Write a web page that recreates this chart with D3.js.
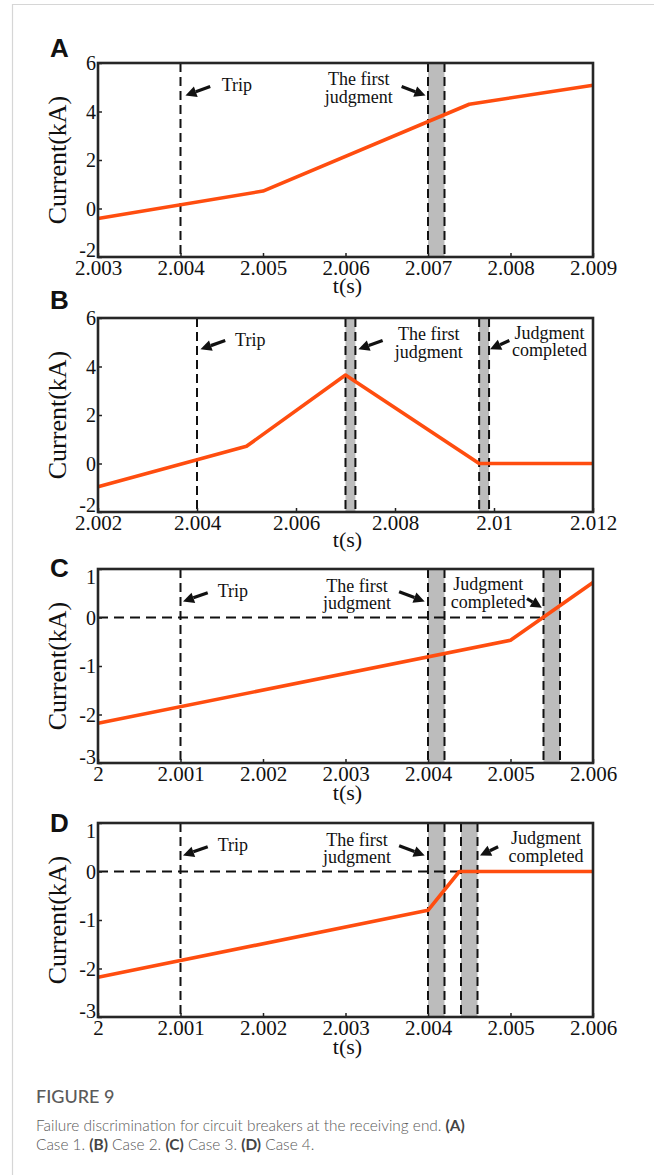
<!DOCTYPE html>
<html><head><meta charset="utf-8">
<script src="https://cdn.jsdelivr.net/npm/d3@7"></script>
<style>body{margin:0;background:#fff} svg{display:block}</style>
</head><body><svg id="c" width="654" height="1175"></svg>
<script>
// ---- data ----
const panelLetters = ["A", "B", "C", "D"];
const xDomainA = [2.003, 2.009], xDomainB = [2.002, 2.012], xDomainC = [2.000, 2.006], xDomainD = [2.000, 2.006];
const yDomainA = [-2, 6], yDomainB = [-2, 6], yDomainC = [-3, 1], yDomainD = [-3, 1];
const xTicksA = [2.003, 2.004, 2.005, 2.006, 2.007, 2.008, 2.009];
const xTickLabelsA = ["2.003", "2.004", "2.005", "2.006", "2.007", "2.008", "2.009"];
const xTicksB = [2.002, 2.004, 2.006, 2.008, 2.010, 2.012];
const xTickLabelsB = ["2.002", "2.004", "2.006", "2.008", "2.01", "2.012"];
const xTicksCD = [2.000, 2.001, 2.002, 2.003, 2.004, 2.005, 2.006];
const xTickLabelsCD = ["2", "2.001", "2.002", "2.003", "2.004", "2.005", "2.006"];
const yTicksAB = [-2, 0, 2, 4, 6];
const yTickLabelsAB = ["-2", "0", "2", "4", "6"];
const yTicksCD = [-3, -2, -1, 0, 1];
const yTickLabelsCD = ["-3", "-2", "-1", "0", "1"];

// current traces (t in s, I in kA)
const tA = [2.003, 2.005, 2.0075, 2.009];
const iA = [-0.41, 0.72, 4.3, 5.08];
const tB = [2.002, 2.005, 2.007, 2.0097, 2.012];
const iB = [-0.96, 0.71, 3.65, 0, 0];
const tC = [2.000, 2.005, 2.006];
const iC = [-2.18, -0.47, 0.72];
const tD = [2.000, 2.004, 2.00438, 2.006];
const iD = [-2.18, -0.8, 0, 0];

// trip instants, judgment windows, zero reference
const tripA = 2.004, tripB = 2.004, tripC = 2.001, tripD = 2.001;
const bandsA = [[2.007, 2.0072]];
const bandsB = [[2.007, 2.0072], [2.0097, 2.0099]];
const bandsC = [[2.004, 2.0042], [2.0054, 2.0056]];
const bandsD = [[2.004, 2.0042], [2.0044, 2.0046]];
const zeroLineC = [2.000, 2.0054];
const zeroLineD = [2.000, 2.0044];

// annotations (data coordinates)
const notesA = [{lines: ["Trip"], x: 2.0045, y: 4.84, anchor: "start"},
                {lines: ["The first", "judgment"], x: 2.00616, y: 5.08, anchor: "middle"}];
const arrowsA = [[2.00436, 5.03, 2.00406, 4.66], [2.00668, 5.03, 2.00697, 4.66]];
const notesB = [{lines: ["Trip"], x: 2.00477, y: 4.84, anchor: "start"},
                {lines: ["The first", "judgment"], x: 2.00868, y: 5.08, anchor: "middle"},
                {lines: ["Judgment", "completed"], x: 2.01112, y: 5.14, anchor: "middle"}];
const arrowsB = [[2.00457, 5.07, 2.00407, 4.71], [2.00775, 5.07, 2.00726, 4.71], [2.01031, 5.07, 2.00992, 4.71]];
const notesC = [{lines: ["Trip"], x: 2.00145, y: 0.43, anchor: "start"},
                {lines: ["The first", "judgment"], x: 2.00314, y: 0.53, anchor: "middle"},
                {lines: ["Judgment", "completed"], x: 2.00473, y: 0.56, anchor: "middle"}];
const arrowsC = [[2.00133, 0.51, 2.00103, 0.33], [2.00365, 0.53, 2.00396, 0.33], [2.0052, 0.39, 2.00538, 0.2]];
const notesD = [{lines: ["Trip"], x: 2.00145, y: 0.43, anchor: "start"},
                {lines: ["The first", "judgment"], x: 2.00314, y: 0.53, anchor: "middle"},
                {lines: ["Judgment", "completed"], x: 2.00543, y: 0.56, anchor: "middle"}];
const arrowsD = [[2.00133, 0.51, 2.00103, 0.33], [2.00365, 0.53, 2.00396, 0.33], [2.00485, 0.51, 2.00463, 0.33]];

// ---- drawing ----
const svg = d3.select("#c");
const serif = "'Liberation Serif','Times New Roman',serif";
const sans = "'Liberation Sans',Arial,sans-serif";
const ORANGE = "#ff4d0f";

// card border
svg.append("path").attr("d", "M12.5,1175 V4.5 H654").attr("fill", "none").attr("stroke", "#d6d6d6").attr("stroke-width", 1.2);

const panels = [
  {letter: panelLetters[0], top: 63, xd: xDomainA, yd: yDomainA, xt: xTicksA, xl: xTickLabelsA, yt: yTicksAB, yl: yTickLabelsAB, t: tA, v: iA, trip: tripA, bands: bandsA, zero: null, notes: notesA, arrows: arrowsA, letterY: 57, topShift: 0, botShift: -7, tsY: 36},
  {letter: panelLetters[1], top: 318, xd: xDomainB, yd: yDomainB, xt: xTicksB, xl: xTickLabelsB, yt: yTicksAB, yl: yTickLabelsAB, t: tB, v: iB, trip: tripB, bands: bandsB, zero: null, notes: notesB, arrows: arrowsB, letterY: 309, topShift: 0, botShift: -7, tsY: 35},
  {letter: panelLetters[2], top: 569, xd: xDomainC, yd: yDomainC, xt: xTicksCD, xl: xTickLabelsCD, yt: yTicksCD, yl: yTickLabelsCD, t: tC, v: iC, trip: tripC, bands: bandsC, zero: zeroLineC, notes: notesC, arrows: arrowsC, letterY: 577, topShift: 8, botShift: -6, tsY: 37},
  {letter: panelLetters[3], top: 823, xd: xDomainD, yd: yDomainD, xt: xTicksCD, xl: xTickLabelsCD, yt: yTicksCD, yl: yTickLabelsCD, t: tD, v: iD, trip: tripD, bands: bandsD, zero: zeroLineD, notes: notesD, arrows: arrowsD, letterY: 832, topShift: 8, botShift: -6, tsY: 37}
];

const L = 98, R = 593, H = 194;

panels.forEach(p => {
  const x = d3.scaleLinear().domain(p.xd).range([L, R]);
  const y = d3.scaleLinear().domain(p.yd).range([p.top + H, p.top]);
  const g = svg.append("g");
  const bottom = p.top + H;

  // bands
  p.bands.forEach(b => {
    g.append("rect").attr("x", x(b[0])).attr("y", p.top).attr("width", x(b[1]) - x(b[0])).attr("height", H).attr("fill", "#bcbcbc");
  });
  // dashed verticals
  const vlines = [p.trip].concat(...p.bands);
  vlines.forEach(v => {
    g.append("line").attr("x1", x(v)).attr("x2", x(v)).attr("y1", p.top).attr("y2", bottom)
      .attr("stroke", "#111").attr("stroke-width", 2).attr("stroke-dasharray", "9,5");
  });
  // zero reference
  if (p.zero) {
    g.append("line").attr("x1", x(p.zero[0])).attr("x2", x(p.zero[1])).attr("y1", y(0)).attr("y2", y(0))
      .attr("stroke", "#111").attr("stroke-width", 2).attr("stroke-dasharray", "10,6");
  }
  // current trace
  const pts = p.t.map((t, i) => [t, p.v[i]]);
  g.append("path").attr("d", d3.line().x(d => x(d[0])).y(d => y(d[1]))(pts))
    .attr("fill", "none").attr("stroke", ORANGE).attr("stroke-width", 3.6).attr("stroke-linejoin", "round");

  // axes
  const xa = g.append("g").attr("transform", `translate(0,${bottom})`)
    .call(d3.axisBottom(x).tickValues(p.xt).tickSize(-4).tickPadding(4).tickFormat((d, i) => p.xl[i]));
  xa.select(".domain").remove();
  xa.selectAll("line").attr("stroke", "#222").attr("stroke-width", 1.5);
  xa.selectAll("text").attr("font-family", serif).attr("font-size", 21).attr("fill", "#111").attr("dy", "0.68em");
  const ya = g.append("g").attr("transform", `translate(${L},0)`)
    .call(d3.axisLeft(y).tickValues(p.yt).tickSize(-4).tickPadding(2).tickFormat((d, i) => p.yl[i]));
  ya.select(".domain").remove();
  ya.selectAll("line").attr("stroke", "#222").attr("stroke-width", 1.5);
  ya.selectAll("text").attr("font-family", serif).attr("font-size", 20).attr("fill", "#111")
    .attr("dy", (d, i, n) => (i === 0 ? `${p.botShift / 20 + 0.34}em` : i === n.length - 1 ? `${p.topShift / 20 + 0.34}em` : "0.34em"));

  // frame
  g.append("rect").attr("x", L).attr("y", p.top).attr("width", R - L).attr("height", H)
    .attr("fill", "none").attr("stroke", "#262626").attr("stroke-width", 2.6);

  // axis titles
  g.append("text").attr("transform", `translate(66,${p.top + H / 2}) rotate(-90)`).attr("text-anchor", "middle")
    .attr("font-family", serif).attr("font-size", 26).attr("fill", "#111").text("Current(kA)");
  g.append("text").attr("x", (L + R) / 2 + 2).attr("y", bottom + p.tsY).attr("text-anchor", "middle")
    .attr("font-family", serif).attr("font-size", 22).attr("fill", "#111").text("t(s)");

  // panel letter
  g.append("text").attr("x", 50).attr("y", p.letterY).attr("font-family", sans).attr("font-weight", "bold")
    .attr("font-size", 26).attr("fill", "#111").text(p.letter);

  // annotations
  p.notes.forEach(n => {
    const t = g.append("text").attr("x", x(n.x)).attr("y", y(n.y)).attr("text-anchor", n.anchor)
      .attr("font-family", serif).attr("font-size", 18).attr("fill", "#111");
    n.lines.forEach((ln, i) => t.append("tspan").attr("x", x(n.x)).attr("dy", i === 0 ? 0 : 17.5).text(ln));
  });
  p.arrows.forEach(a => {
    const x1 = x(a[0]), y1 = y(a[1]), x2 = x(a[2]), y2 = y(a[3]);
    const ang = Math.atan2(y2 - y1, x2 - x1);
    const hl = 11, hw = 5.5;
    const bx = x2 - hl * Math.cos(ang), by = y2 - hl * Math.sin(ang);
    g.append("line").attr("x1", x1).attr("y1", y1).attr("x2", bx).attr("y2", by)
      .attr("stroke", "#111").attr("stroke-width", 3.2);
    const px = -Math.sin(ang) * hw, py = Math.cos(ang) * hw;
    g.append("path").attr("d", `M${x2},${y2}L${bx + px},${by + py}L${bx - px},${by - py}Z`).attr("fill", "#111");
  });
});

// caption
const cap = svg.append("g").attr("font-family", "Lato, 'Open Sans', sans-serif").attr("fill", "#5a5a5a");
cap.append("text").attr("x", 36).attr("y", 1103).attr("font-size", 18).attr("font-weight", 500).text("FIGURE 9");
const l1 = cap.append("text").attr("x", 36).attr("y", 1131).attr("font-size", 15.4).attr("font-weight", 300);
l1.append("tspan").text("Failure discrimination for circuit breakers at the receiving end. ");
l1.append("tspan").attr("font-weight", 700).attr("fill", "#444").text("(A)");
const l2 = cap.append("text").attr("x", 36).attr("y", 1150).attr("font-size", 15.4).attr("font-weight", 300);
[["(B)", " Case 2. "], ["(C)", " Case 3. "], ["(D)", " Case 4."]].forEach((pair, i) => {
  if (i === 0) l2.append("tspan").text("Case 1. ");
  l2.append("tspan").attr("font-weight", 700).attr("fill", "#444").text(pair[0]);
  l2.append("tspan").text(pair[1]);
});
</script></body></html>
